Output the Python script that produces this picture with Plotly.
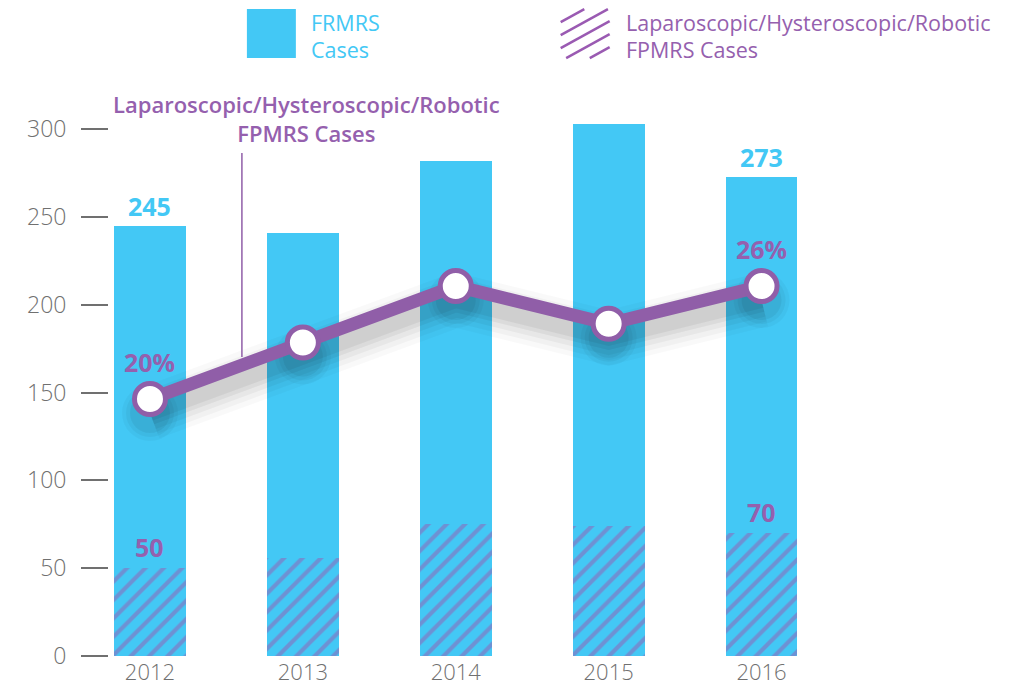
import plotly.graph_objects as go

years = ["2012", "2013", "2014", "2015", "2016"]
total_cases = [245, 241, 282, 303, 273]
lap_cases = [50, 56, 75, 74, 70]
lap_pct = [20, 23, 26, 24, 26]
total_labels = ["245", "", "", "", "273"]
lap_labels = ["50", "", "", "", "70"]
pct_labels = ["20%", "", "", "", "26%"]
y_ticks = [0, 50, 100, 150, 200, 250, 300]

BLUE = "#43C8F5"
PURPLE = "#905EA8"
HATCH = "#9A5AB2"
PTEXT = "#9560AE"
GREY = "#707070"
FONT = "Open Sans"

OFF = 8  # page body margin
W, H = 1027 - OFF, 686 - OFF
PX_PER_UNIT = 527 / 300
Y_TOP = 312
L = 101
PH = Y_TOP * PX_PER_UNIT
B = 30
T = H - B - PH
PW = 729.5
R = W - L - PW
x_range = [-0.268, 4.5]
p_per_unit = (34.34 - 6.35) / 300          # percent units per left-axis unit
y2_range = [6.35, 6.35 + Y_TOP * p_per_unit]
y2_per_px = p_per_unit / PX_PER_UNIT


def px_x(p):
    return (p - OFF - L) / PW


def px_y(p):
    return (656 - p) / PH


xs = list(range(len(years)))

fig = go.Figure()
fig.add_bar(x=xs, y=total_cases, width=0.47, marker=dict(color=BLUE, line=dict(width=0)),
            hoverinfo="skip", showlegend=False)
fig.add_bar(x=xs, y=lap_cases, width=0.47,
            marker=dict(color=BLUE, line=dict(width=0),
                        pattern=dict(shape="/", fgcolor=HATCH, bgcolor=BLUE, size=13, solidity=0.32)),
            hoverinfo="skip", showlegend=False)

# soft shadow (drawn on a slightly shifted overlay axis)
for w, a in [(54, 0.025), (44, 0.03), (34, 0.04), (24, 0.05), (16, 0.05)]:
    fig.add_scatter(x=xs, y=lap_pct, yaxis="y2", mode="lines",
                    line=dict(color=f"rgba(0,0,0,{a})", width=w), hoverinfo="skip", showlegend=False)
for s, a in [(56, 0.03), (48, 0.04), (40, 0.05)]:
    fig.add_scatter(x=xs, y=lap_pct, yaxis="y2", mode="markers",
                    marker=dict(color=f"rgba(0,0,0,{a})", size=s, line=dict(width=0)),
                    hoverinfo="skip", showlegend=False)

fig.add_scatter(x=xs, y=lap_pct, yaxis="y3", mode="lines+markers",
                line=dict(color=PURPLE, width=13),
                marker=dict(color="white", size=31, line=dict(color=PURPLE, width=5)),
                hoverinfo="skip", showlegend=False)

ann = []
for i in xs:
    if total_labels[i]:
        ann.append(dict(x=i, y=total_cases[i], text=total_labels[i], showarrow=False, yanchor="bottom",
                        xanchor="center", yshift=1,
                        font=dict(family=FONT, size=25, color=BLUE, weight="bold")))
    if lap_labels[i]:
        ann.append(dict(x=i, y=lap_cases[i], text=lap_labels[i], showarrow=False, yanchor="bottom",
                        xanchor="center", yshift=2,
                        font=dict(family=FONT, size=25, color=PTEXT, weight="bold")))
    if pct_labels[i]:
        ann.append(dict(x=i, y=lap_pct[i], yref="y3", text=pct_labels[i], showarrow=False,
                        xanchor="center", yshift=37,
                        font=dict(family=FONT, size=25, color=PTEXT, weight="bold")))

# callout
ann.append(dict(x=px_x(307), y=px_y(118), xref="paper", yref="paper", xanchor="center",
                yanchor="middle",
                text="Laparoscopic/Hysteroscopic/Robotic<br>FPMRS Cases", showarrow=False,
                align="center", font=dict(family=FONT, size=22, color=PTEXT, weight=600)))

shapes = [dict(type="line", xref="paper", yref="paper", x0=px_x(242), x1=px_x(242),
               y0=px_y(153), y1=px_y(357), line=dict(color=PURPLE, width=1.5))]

# legend
shapes.append(dict(type="rect", xref="paper", yref="paper", x0=px_x(247), x1=px_x(296),
                   y0=px_y(58), y1=px_y(9), fillcolor=BLUE, line=dict(width=0)))
legend_lines_1 = ["FRMRS", "Cases"]
legend_lines_2 = ["Laparoscopic/Hysteroscopic/Robotic", "FPMRS Cases"]
for j, (t1, t2) in enumerate(zip(legend_lines_1, legend_lines_2)):
    yy = px_y(22 + 27 * j)
    ann.append(dict(x=px_x(309), y=yy, xref="paper", yref="paper", xanchor="left",
                    yanchor="middle", text=t1, showarrow=False,
                    font=dict(family=FONT, size=21.5, color=BLUE)))
    ann.append(dict(x=px_x(624), y=yy, xref="paper", yref="paper", xanchor="left",
                    yanchor="middle", text=t2, showarrow=False,
                    font=dict(family=FONT, size=21.5, color=PTEXT)))
# hatch in legend square
sx0, sx1, sy0, sy1 = 561, 610, 9, 58
slope = 0.55
for k in range(0, 12):
    c = sy0 + k * 13
    xa, ya = sx0, c
    xb, yb = sx1, c - slope * (sx1 - sx0)
    if ya > sy1:
        xa = sx0 + (c - sy1) / slope
        ya = sy1
    if yb < sy0:
        xb = sx0 + (c - sy0) / slope
        yb = sy0
    if xb - xa < 3:
        continue
    shapes.append(dict(type="line", xref="paper", yref="paper", x0=px_x(xa), y0=px_y(ya),
                       x1=px_x(xb), y1=px_y(yb), line=dict(color=HATCH, width=2.5)))

fig.update_layout(
    width=W, height=H, margin=dict(l=L, r=R, t=T, b=B, autoexpand=False),
    paper_bgcolor="white", plot_bgcolor="white",
    barmode="overlay", bargap=0,
    showlegend=False,
    xaxis=dict(range=x_range, tickvals=xs, ticktext=years, showgrid=False, zeroline=False,
               showline=False, ticks="", ticklabelstandoff=1,
               tickfont=dict(family=FONT, size=22, color=GREY, weight=300)),
    yaxis=dict(range=[0, Y_TOP], tickvals=y_ticks, showgrid=False, zeroline=False, showline=False,
               ticks="outside", ticklen=27, tickwidth=1.5, tickcolor=GREY, ticklabelstandoff=10,
               tickfont=dict(family=FONT, size=23, color=GREY, weight=300)),
    yaxis2=dict(range=[y2_range[0] + 14 * y2_per_px, y2_range[1] + 14 * y2_per_px],
                overlaying="y", visible=False),
    yaxis3=dict(range=y2_range, overlaying="y", visible=False),
    annotations=ann, shapes=shapes,
)

fig.write_html("out.html")
